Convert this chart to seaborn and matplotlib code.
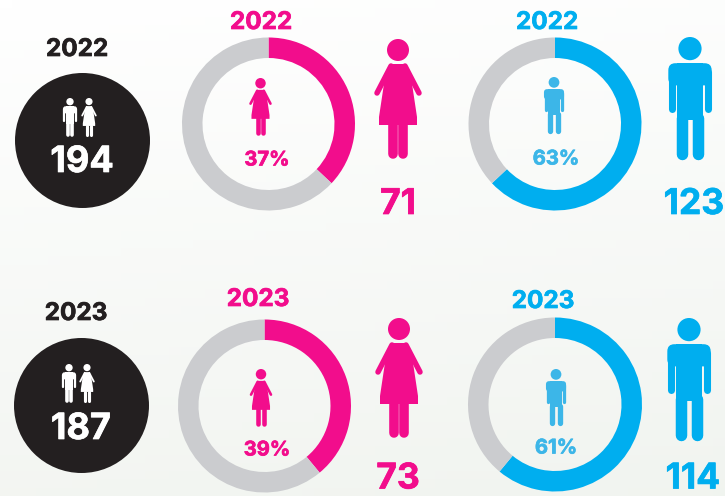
import matplotlib
matplotlib.use("Agg")
import matplotlib.pyplot as plt
import matplotlib.patheffects as pe
from matplotlib.patches import Circle, FancyBboxPatch, Polygon, Rectangle
import numpy as np
import pandas as pd
import seaborn as sns

# values
years = ["2022", "2023"]
totals = [194, 187]
women = [71, 73]
men = [123, 114]
women_pct = [37, 39]
men_pct = [63, 61]

PINK = "#f20d8c"
BLUE = "#00aeef"
BLUE_TXT = "#3cb6e8"
GREY = "#cbcccf"
BLACK = "#231f20"
WHITE = "#ffffff"

sns.set_theme(style="white")
plt.rcParams["font.family"] = ["Inter", "DejaVu Sans"]

W, H = 725, 496
fig = plt.figure(figsize=(W / 100, H / 100), dpi=100)
ax = fig.add_axes([0, 0, 1, 1])

# soft background, white at the top going slightly green-grey at the bottom
yy, xx = np.mgrid[0:1:60j, 0:1:60j]
t = np.clip(yy * 0.85 + xx * 0.15, 0, 1)[..., None]
bg = (1 - t) * np.array([1, 1, 1]) + t * np.array([0.945, 0.957, 0.94])
ax.imshow(bg, extent=[0, W, H, 0], aspect="auto", zorder=0)


def lw(px):
    return px * 0.72


def woman(cx, top, height, color):
    k = height / 120
    ax.add_patch(Circle((cx, top + 11 * k), 11 * k, color=color, lw=0, zorder=3))
    dress = [(-8, 25), (8, 25), (13, 38), (19, 78), (19, 86), (-19, 86), (-19, 78), (-13, 38)]
    ax.add_patch(Polygon([(cx + a * k, top + b * k) for a, b in dress], color=color, lw=0, zorder=3))
    for s in (-1, 1):
        ax.plot([cx + s * 7 * k, cx + s * 21 * k], [top + 27 * k, top + 54 * k],
                color=color, lw=lw(5.5 * k), solid_capstyle="round", zorder=3)
        ax.plot([cx + s * 5.3 * k] * 2, [top + 85 * k, top + 115 * k],
                color=color, lw=lw(9.6 * k), solid_capstyle="round", zorder=3)


def man(cx, top, height, color):
    k = height / 122
    ax.add_patch(Circle((cx, top + 11.5 * k), 11.5 * k, color=color, lw=0, zorder=3))
    ax.add_patch(FancyBboxPatch((cx - 14.5 * k, top + 33 * k), 29 * k, 8 * k,
                                boxstyle=f"round,pad={7 * k}", color=color, lw=0, zorder=3))
    ax.add_patch(Rectangle((cx - 13.3 * k, top + 26 * k), 26.6 * k, 56 * k, color=color, lw=0, zorder=3))
    for s in (-1, 1):
        ax.plot([cx + s * 18 * k] * 2, [top + 35 * k, top + 71 * k],
                color=color, lw=lw(7 * k), solid_capstyle="round", zorder=3)
        ax.plot([cx + s * 7.7 * k] * 2, [top + 80 * k, top + 116 * k],
                color=color, lw=lw(11.4 * k), solid_capstyle="round", zorder=3)


def donut(cx, cy, r, pct, color):
    a = fig.add_axes([(cx - r) / W, 1 - (cy + r) / H, 2 * r / W, 2 * r / H])
    a.pie([pct, 100 - pct], colors=[color, GREY], startangle=90, counterclock=False,
          radius=1, wedgeprops={"width": 20.5 / r, "linewidth": 0})
    a.set_xlim(-1, 1)
    a.set_ylim(-1, 1)
    a.patch.set_alpha(0)


def label(x, y, s, size, color, stroke=0.5):
    ax.text(x, y + 1.5, s, fontsize=size, color=color, fontweight="bold", ha="center", va="center",
            zorder=5, path_effects=[pe.withStroke(linewidth=stroke, foreground=color)])


# black badges
badges = pd.DataFrame({"x": [82.5, 81], "y": [139.5, 404.5], "year": years})
sns.scatterplot(data=badges, x="x", y="y", s=9448, color=BLACK, linewidth=0,
                legend=False, ax=ax, zorder=2)

# layout per row
donut_w = [(268.5, 124, 86.5), (264.5, 406, 86.5)]
donut_m = [(555, 124, 86.5), (555, 404.5, 87)]
title_y = [(48, 21, 21), (312, 298, 300)]
title_x = [(77, 261, 547), (76, 258, 543)]
mid_y = [161, 428]
pct_y = [(159, 158), (449, 447)]
num_y = [203, 477.5]
big_top = [(39, 37), (318, 318)]
small_w = [(260.5, 78), (261, 369)]
small_m = [(554, 77), (556, 369)]
pair = [(70, 89, 98), (69, 87, 364)]
big_w_x = [398, 399]
big_m_x = [690, 689]

for i in range(2):
    donut(*donut_w[i], women_pct[i], PINK)
    donut(*donut_m[i], men_pct[i], BLUE)

    label(title_x[i][0], title_y[i][0], years[i], 17.5, BLACK)
    label(title_x[i][1], title_y[i][1], years[i], 17.5, PINK)
    label(title_x[i][2], title_y[i][2], years[i], 17.5, BLUE)

    label(82 - i, mid_y[i], str(totals[i]), 26, WHITE)
    label(267, pct_y[i][0], f"{women_pct[i]}%", 14.5, PINK)
    label(556, pct_y[i][1], f"{men_pct[i]}%", 14.5, BLUE_TXT)
    label(398, num_y[i], str(women[i]), 25.5, PINK)
    label(694 - i, num_y[i], str(men[i]), 25.5, BLUE)

    woman(big_w_x[i], big_top[i][0], 120, PINK)
    man(big_m_x[i], big_top[i][1], 123, BLUE)
    woman(small_w[i][0], small_w[i][1], 57, PINK)
    man(small_m[i][0], small_m[i][1], 57, BLUE_TXT)
    man(pair[i][0], pair[i][2], 39, WHITE)
    woman(pair[i][1], pair[i][2], 39, WHITE)

ax.set_xlim(0, W)
ax.set_ylim(H, 0)
ax.axis("off")

fig.savefig("out.png", dpi=100)
